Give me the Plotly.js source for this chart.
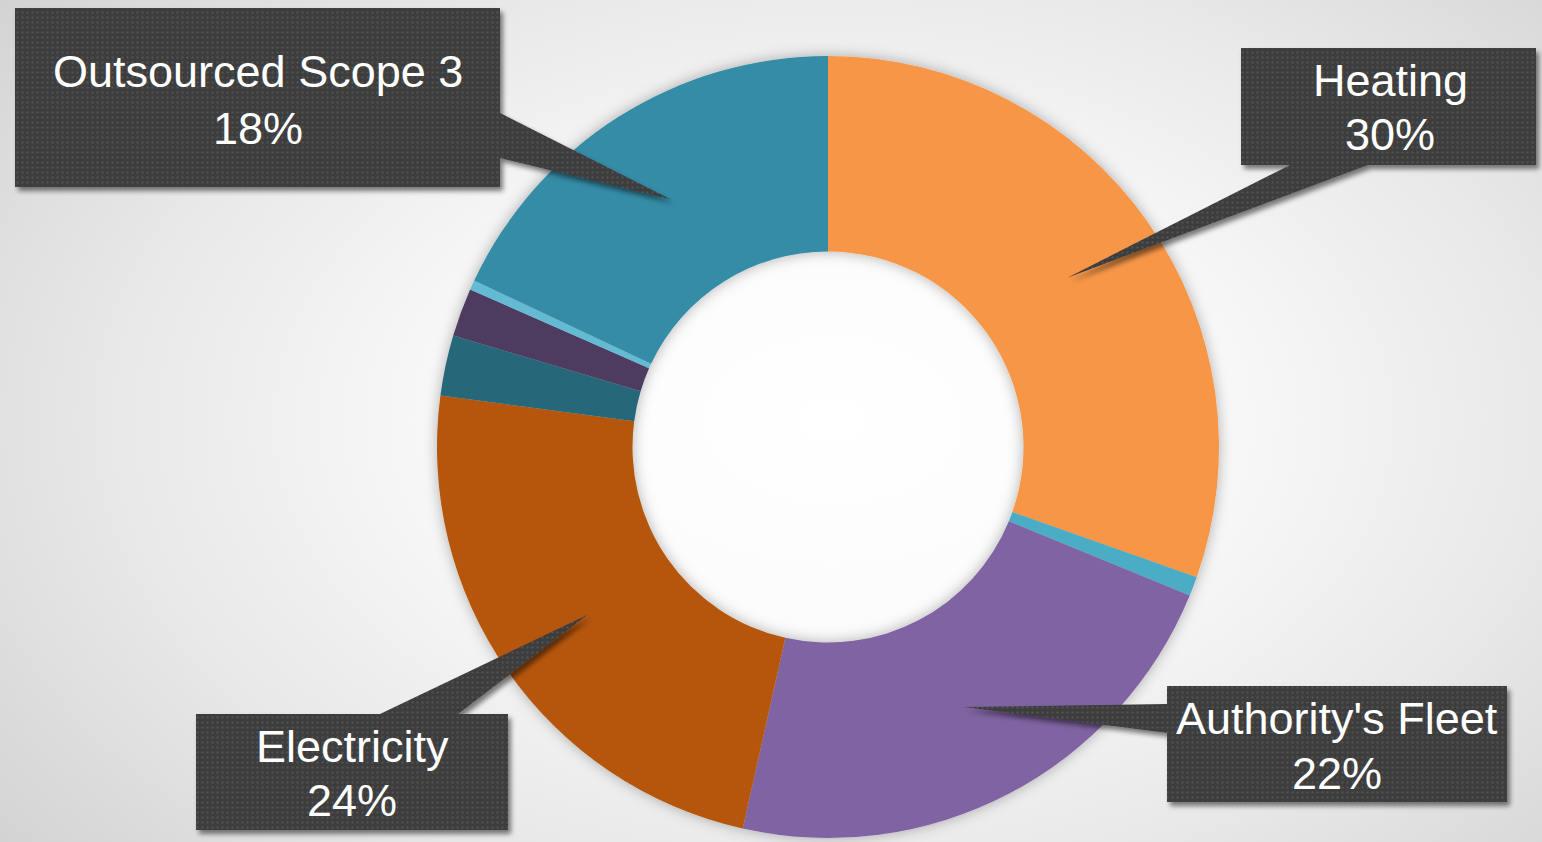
<!DOCTYPE html>
<html>
<head>
<meta charset="utf-8">
<script src="https://cdn.plot.ly/plotly-3.0.1.min.js"></script>
<style>
html, body { margin:0; padding:0; width:1542px; height:842px; overflow:hidden;
  background: radial-gradient(ellipse 72% 85% at 54% 50%, #ffffff 0%, #fbfbfb 30%, #e8e8e8 65%, #d0d0d0 100%); }
#chart { width:1542px; height:842px; }
</style>
</head>
<body>
<div id="chart"></div>
<script>
// ---- data ----
const categories = ["Heating", "Other A", "Authority's Fleet", "Electricity", "Other B", "Other C", "Other D", "Outsourced Scope 3"];
const values     = [30.4, 0.8, 22.3, 23.6, 2.5, 2.0, 0.4, 18.0];
const colors     = ["#F79646", "#4BACC6", "#8064A2", "#B65708", "#27687A", "#4E3A61", "#62BAD3", "#368CA7"];
const calloutCategories = ["Outsourced Scope 3", "Heating", "Authority's Fleet", "Electricity"];

// ---- layout geometry (pixels) ----
const W = 1542, H = 842;
const CX = 828, CY = 447, R = 391, HOLE = 0.5;
const callouts = {
  "Outsourced Scope 3": { box:[15, 8, 500, 187],    base:[[500,113],[500,158]],   tx:258,  ly:[72, 128] },
  "Heating":            { box:[1241, 48, 1536, 165], base:[[1290,165],[1368,165]], tx:1390, ly:[81, 135] },
  "Authority's Fleet":  { box:[1167, 686, 1507, 802],base:[[1168,704],[1168,733]], tx:1337, ly:[718, 773] },
  "Electricity":        { box:[196, 714, 508, 830],  base:[[380,714],[458,714]],   tx:352,  ly:[746, 800] }
};

const px = x => x / W;
const py = y => 1 - y / H;

const total = values.reduce((a, b) => a + b, 0);
let cum = 0;
const mids = values.map(v => { const m = cum + v / 2; cum += v; return m / total; });

const shapes = [];
const annotations = [];
const FONT = "'Liberation Sans', Arial, sans-serif";
calloutCategories.forEach(cat => {
  const i = categories.indexOf(cat);
  const c = callouts[cat];
  const ang = mids[i] * 2 * Math.PI;
  const rr = R * (1 + HOLE) / 2;
  const tipX = CX + rr * Math.sin(ang);
  const tipY = CY - rr * Math.cos(ang);
  shapes.push({ type:'path', xref:'paper', yref:'paper', layer:'above',
    path:`M ${px(c.base[0][0])},${py(c.base[0][1])} L ${px(tipX)},${py(tipY)} L ${px(c.base[1][0])},${py(c.base[1][1])} Z`,
    fillcolor:'#404040', line:{width:0} });
  shapes.push({ type:'rect', xref:'paper', yref:'paper', layer:'above',
    x0:px(c.box[0]), x1:px(c.box[2]), y0:py(c.box[3]), y1:py(c.box[1]),
    fillcolor:'#404040', line:{width:0} });
  const pct = Math.round(values[i] / total * 100) + '%';
  annotations.push({ xref:'paper', yref:'paper', x:px(c.tx), y:py(c.ly[0]), text:cat,
    showarrow:false, xanchor:'center', yanchor:'middle', font:{family:FONT, size:45, color:'#ffffff'} });
  annotations.push({ xref:'paper', yref:'paper', x:px(c.tx), y:py(c.ly[1]), text:pct,
    showarrow:false, xanchor:'center', yanchor:'middle', font:{family:FONT, size:45, color:'#ffffff'} });
});

const data = [{
  type:'pie', labels:categories, values:values, sort:false, direction:'clockwise', rotation:0,
  hole:HOLE, textinfo:'none', hoverinfo:'label+percent',
  marker:{ colors:colors, line:{width:0} },
  domain:{ x:[px(CX - R), px(CX + R)], y:[py(CY + R), py(CY - R)] },
  showlegend:false
}];

const layout = {
  width:W, height:H, margin:{l:0, r:0, t:0, b:0, pad:0},
  paper_bgcolor:'rgba(0,0,0,0)', plot_bgcolor:'rgba(0,0,0,0)',
  showlegend:false, shapes:shapes, annotations:annotations
};

Plotly.newPlot('chart', data, layout, {staticPlot:true, displayModeBar:false}).then(gd => {
  const ns = 'http://www.w3.org/2000/svg';
  const svg = gd.querySelector('svg.main-svg');
  let defs = svg.querySelector('defs');
  if (!defs) { defs = document.createElementNS(ns, 'defs'); svg.insertBefore(defs, svg.firstChild); }
  defs.insertAdjacentHTML('beforeend',
    '<filter id="ringShadow" x="-20%" y="-20%" width="140%" height="140%">' +
      '<feGaussianBlur in="SourceAlpha" stdDeviation="7"/><feOffset dx="0" dy="0" result="o"/>' +
      '<feFlood flood-color="#000" flood-opacity="0.3"/><feComposite in2="o" operator="in"/>' +
      '<feMerge><feMergeNode/><feMergeNode in="SourceGraphic"/></feMerge></filter>' +
    '<filter id="boxShadow" x="-10%" y="-10%" width="120%" height="130%">' +
      '<feGaussianBlur in="SourceAlpha" stdDeviation="2.5"/><feOffset dx="3" dy="4" result="o"/>' +
      '<feFlood flood-color="#000" flood-opacity="0.5"/><feComposite in2="o" operator="in"/>' +
      '<feMerge><feMergeNode/><feMergeNode in="SourceGraphic"/></feMerge></filter>' +
    '<pattern id="dots" x="0" y="0" width="5" height="5" patternUnits="userSpaceOnUse">' +
      '<rect width="5" height="5" fill="#3c3c3c"/><rect x="1.5" y="1.5" width="2" height="2" fill="#575757"/></pattern>');
  const pie = gd.querySelector('.pielayer');
  if (pie) pie.setAttribute('filter', 'url(#ringShadow)');
  const sl = gd.querySelector('.layer-above .shapelayer');
  if (sl) {
    sl.setAttribute('filter', 'url(#boxShadow)');
    sl.querySelectorAll('path').forEach(p => { p.style.fill = 'url(#dots)'; p.style.fillOpacity = 1; });
  }
});
</script>
</body>
</html>
